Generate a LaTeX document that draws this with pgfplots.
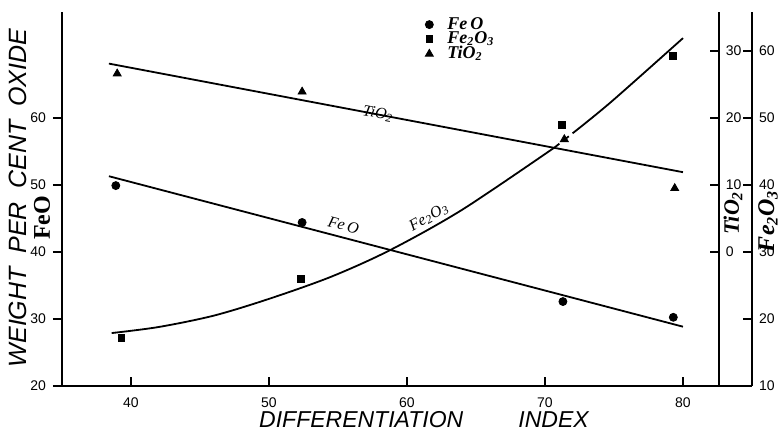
\documentclass[border=0pt]{standalone}
\usepackage{fontspec}
\setmainfont{Liberation Serif}
\setsansfont{Liberation Sans}
\usepackage{pgfplots}
\pgfplotsset{compat=1.18}
\pgfplotsset{
  mybase/.style={
    scale only axis, height=187pt, at={(0pt,0pt)}, anchor=south west, clip=false,
    xmin=35,
    ticklabel style={font=\sffamily\fontsize{7}{8}\selectfont},
    xticklabel style={yshift=-2.5pt},
    /pgf/number format/assume math mode=true,
    major tick style={line width=0.8pt,black},
    major tick length=4.5pt,
  },
  noarrows/.style={
    axis line style={line width=1.2pt,-},
    x axis line style={-}, y axis line style={-},
  },
}
\begin{document}
\begin{tikzpicture}
\useasboundingbox (-31pt,-27.5pt) rectangle (360.5pt,193pt);
% ---------------- FeO (main axis) ----------------
\begin{axis}[mybase, width=345pt, xmax=85, ymin=20, ymax=75.8,
  axis x line=bottom, axis y line=left, noarrows,
  xtick={40,50,60,70,80}, ytick={20,30,40,50,60},
  xtick align=inside, ytick align=outside,
  legend style={at={(0.526,0.998)}, anchor=north west, draw=none, fill=none,
    font=\bfseries\itshape\fontsize{9}{9}\selectfont, row sep=-4.2pt, inner sep=0pt,
    column sep=5pt},
  legend cell align=left,
  legend image code/.code={\draw[#1] plot coordinates {(0pt,0pt)};},
]
\addplot[forget plot, only marks, mark=*, mark size=2pt] coordinates {(38.9,49.9)(52.4,44.4)(71.3,32.6)(79.3,30.25)};
\addplot[forget plot, line width=0.9pt, no marks] coordinates {(38.4,51.3)(80,28.85)};
\node[rotate=-14.7, font=\itshape\fontsize{8}{8}\selectfont] at (axis cs:55.4,44.0) {Fe\,O};
\addlegendimage{only marks, mark=*, mark size=2pt}
\addlegendentry{Fe\,O}
\addlegendimage{only marks, mark=square*, mark size=1.7pt}
\addlegendentry{Fe\textsubscript{2}O\textsubscript{3}}
\addlegendimage{only marks, mark=triangle*, mark size=2.3pt}
\addlegendentry{TiO\textsubscript{2}}
\end{axis}
% ---------------- TiO2 axis ----------------
\begin{axis}[mybase, width=328.44pt, xmax=82.6, ymin=-20, ymax=35.8,
  axis x line=none, axis y line=right, noarrows,
  ytick={0,10,20,30}, ytick align=inside]
\addplot[only marks, mark=triangle*, mark size=2.3pt] coordinates {(39.0,26.6)(52.4,23.9)(71.4,16.8)(79.4,9.5)};
\addplot[line width=0.9pt, no marks] coordinates {(38.4,28.1)(80,11.9)};
\node[rotate=-10.7, font=\itshape\fontsize{8}{8}\selectfont] at (axis cs:57.9,20.6) {TiO\textsubscript{2}};
\end{axis}
% ---------------- Fe2O3 axis ----------------
\begin{axis}[mybase, width=345pt, xmax=85, ymin=10, ymax=65.8,
  axis x line=none, axis y line=right, noarrows,
  ytick={10,20,30,40,50,60}, ytick align=inside]
\addplot[only marks, mark=square*, mark size=1.7pt] coordinates {(39.3,17.2)(52.3,26.0)(71.2,49.0)(79.25,59.25)};
\addplot[line width=0.9pt, no marks, smooth] coordinates {(38.6,17.9)(42,18.8)(46,20.5)(50,23.0)(54.5,26.3)(58.8,30.3)(64,36.3)(70.7,45.6)};
\addplot[line width=0.9pt, no marks, dashed] coordinates {(70.7,45.6)(72.0,47.7)};
\addplot[line width=0.9pt, no marks, smooth] coordinates {(72.0,47.7)(74.8,52.4)(80,61.9)};
\node[rotate=29.4, font=\itshape\fontsize{8}{8}\selectfont] at (axis cs:61.6,35.2) {Fe\textsubscript{2}O\textsubscript{3}};
\end{axis}
% ---------------- axis titles ----------------
\node[rotate=90, font=\sffamily\itshape\fontsize{12.5}{12.5}\selectfont] at (-22pt,94pt) {WEIGHT\hspace{0.55em}PER\hspace{0.55em}CENT\hspace{0.55em}OXIDE};
\node[rotate=90, font=\bfseries\fontsize{12}{12}\selectfont] at (-10pt,84pt) {FeO};
\node[rotate=90, font=\bfseries\itshape\fontsize{11}{11}\selectfont] at (335.5pt,86.5pt) {TiO\textsubscript{2}};
\node[rotate=90, font=\bfseries\itshape\fontsize{12}{12}\selectfont] at (353pt,82.5pt) {Fe\textsubscript{2}O\textsubscript{3}};
\node[font=\sffamily\itshape\fontsize{11.5}{11.5}\selectfont] at (181pt,-17pt) {DIFFERENTIATION\hspace{2.4em}INDEX};
\end{tikzpicture}
\end{document}
